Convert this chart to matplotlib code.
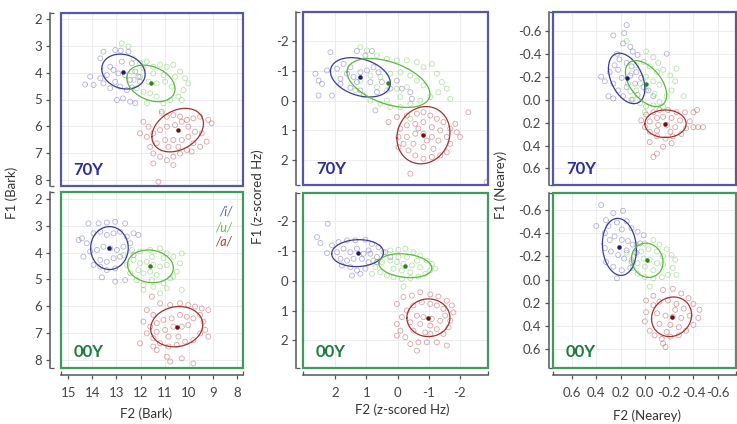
import numpy as np
import matplotlib.pyplot as plt
from matplotlib.patches import Rectangle

plt.rcParams['font.family'] = ['Lato', 'DejaVu Sans']
plt.rcParams['axes.unicode_minus'] = False

# vowel order: /i/, /u/, /a/
vowels = ['/i/', '/u/', '/a/']
point_colors = ['#5656b4', '#5fc23f', '#b23636']
line_colors = ['#3a3a9c', '#5aba3c', '#a53030']
mean_colors = ['#1c1c70', '#2a861a', '#701010']

# ---- Bark, 70Y (F2, F1) ----
bark70_i = [(13.54, 3.22), (13.05, 3.16), (12.82, 3.18), (12.50, 3.22), (13.67, 3.47), (13.26, 3.78),
            (14.09, 4.15), (14.30, 4.44), (13.95, 4.46), (13.67, 4.21), (13.40, 4.09), (13.12, 3.90),
            (12.92, 4.03), (12.64, 4.09), (12.43, 4.27), (12.22, 3.96), (12.09, 4.15), (13.05, 4.34),
            (12.85, 4.52), (12.57, 4.65), (12.36, 4.55), (12.98, 5.02), (12.73, 4.96), (12.43, 5.08),
            (12.22, 5.14), (12.02, 4.34), (13.26, 4.58), (13.54, 4.40), (12.78, 3.59), (12.36, 3.65)]
bark70_u = [(12.78, 2.91), (12.50, 3.03), (12.29, 3.47), (12.02, 3.65), (11.74, 3.59), (11.47, 3.78),
            (11.19, 3.71), (10.91, 3.78), (10.64, 3.71), (10.36, 3.96), (10.15, 4.21), (10.02, 4.40),
            (10.22, 4.65), (10.43, 4.89), (10.77, 5.02), (11.05, 5.14), (11.33, 4.89), (11.60, 4.77),
            (11.88, 4.71), (12.16, 4.58), (12.29, 4.27), (12.02, 4.15), (11.67, 4.34), (11.33, 4.40),
            (10.98, 4.34), (10.71, 4.52), (11.47, 4.03), (11.05, 4.09), (11.88, 3.84), (12.36, 3.96),
            (11.12, 5.52), (11.74, 5.14), (10.57, 4.15), (10.29, 5.02)]
bark70_a = [(11.12, 5.45), (10.91, 5.64), (10.64, 5.58), (10.36, 5.64), (10.08, 5.76), (9.81, 5.70),
            (9.53, 5.64), (9.19, 5.76), (9.05, 5.89), (11.88, 5.83), (11.67, 6.01), (12.02, 6.26),
            (11.74, 6.39), (11.47, 6.26), (11.19, 6.14), (10.91, 6.01), (10.57, 5.95), (10.29, 5.83),
            (10.02, 6.01), (9.74, 6.20), (9.46, 6.26), (9.26, 6.57), (9.53, 6.76), (9.81, 6.63),
            (10.08, 6.88), (10.36, 7.01), (10.64, 7.13), (10.91, 7.26), (11.19, 7.13), (11.47, 7.01),
            (11.60, 6.76), (11.33, 6.63), (10.98, 6.51), (10.64, 6.51), (10.29, 6.51), (10.02, 6.39),
            (10.84, 6.76), (10.43, 6.76), (11.47, 7.38), (10.64, 7.44), (11.26, 8.06), (9.88, 6.94)]

# ---- Bark, 00Y ----
bark00_i = [(14.16, 2.91), (13.74, 2.91), (13.40, 2.88), (13.05, 2.85), (12.64, 2.91), (14.43, 3.47),
            (14.23, 3.65), (13.95, 3.28), (13.67, 3.22), (13.40, 3.34), (13.12, 3.28), (12.85, 3.22),
            (12.57, 3.40), (12.29, 3.28), (12.09, 3.34), (14.09, 3.96), (13.81, 3.90), (13.54, 3.78),
            (13.26, 3.84), (12.98, 3.90), (12.71, 3.78), (12.43, 3.65), (13.67, 4.27), (13.40, 4.34),
            (13.12, 4.21), (12.85, 4.15), (13.95, 4.46), (13.67, 4.52), (13.40, 4.65), (13.05, 4.59),
            (13.60, 4.92), (13.05, 5.08), (12.64, 5.02), (12.29, 4.09), (14.37, 4.15), (14.57, 3.53)]
bark00_u = [(12.36, 3.90), (12.02, 3.96), (11.60, 3.90), (11.19, 3.84), (10.91, 4.03), (10.64, 4.15),
            (10.29, 4.03), (10.36, 4.40), (10.50, 4.71), (10.77, 4.96), (11.05, 5.14), (11.47, 5.27),
            (11.88, 5.21), (12.16, 5.02), (12.43, 4.77), (12.57, 4.46), (12.29, 4.27), (12.02, 4.40),
            (11.74, 4.34), (11.47, 4.46), (11.19, 4.52), (10.91, 4.46), (11.60, 4.71), (11.33, 4.83),
            (11.88, 4.77), (12.09, 4.65), (11.53, 4.15), (11.05, 4.21), (10.29, 5.39), (11.19, 5.52),
            (10.91, 5.33), (11.88, 5.39), (11.53, 5.02), (12.71, 4.09), (10.64, 4.89)]
bark00_a = [(11.53, 5.64), (11.19, 5.89), (10.77, 5.95), (10.36, 5.89), (10.02, 5.95), (9.74, 6.01),
            (9.46, 6.08), (9.19, 6.14), (11.74, 6.14), (11.47, 6.32), (11.88, 6.57), (11.60, 6.76),
            (11.33, 6.63), (11.05, 6.51), (10.71, 6.45), (10.36, 6.32), (10.08, 6.39), (9.81, 6.45),
            (9.53, 6.32), (9.39, 6.57), (9.32, 6.88), (9.19, 7.13), (9.53, 7.01), (9.81, 7.26),
            (10.15, 7.32), (10.50, 7.44), (10.84, 7.50), (11.19, 7.38), (11.47, 7.19), (11.74, 7.01),
            (11.33, 6.95), (10.98, 6.88), (10.64, 6.76), (10.29, 6.76), (10.02, 6.70), (10.84, 7.13),
            (10.43, 7.13), (12.02, 7.38), (11.33, 7.63), (10.91, 7.88), (10.29, 7.94), (9.81, 8.13),
            (10.77, 8.06), (11.47, 7.50)]

# ---- z-scored Hz, 70Y ----
z70_i = [(2.15, -1.62), (1.30, -1.66), (0.82, -1.66), (1.03, -1.51), (2.63, -0.90), (2.53, -0.67),
         (2.42, -0.56), (2.53, -0.17), (2.10, -0.17), (2.26, -1.01), (1.94, -1.07), (1.73, -1.23),
         (1.51, -1.12), (1.62, -0.90), (1.41, -0.79), (1.19, -0.95), (0.98, -1.01), (0.77, -1.12),
         (0.61, -0.95), (0.50, -0.62), (0.87, -0.62), (1.30, -0.62), (1.51, -0.43), (1.83, -0.56),
         (1.19, -0.34), (0.66, -0.28), (0.23, -0.40), (-0.14, -0.40), (-0.41, -0.28), (0.02, -0.67),
         (0.71, 0.33), (-0.46, -0.06), (1.83, -0.73)]
z70_u = [(1.19, -1.79), (0.98, -1.68), (0.66, -1.51), (0.34, -1.40), (0.02, -1.35), (-0.30, -1.35),
         (-0.62, -1.29), (-0.83, -1.12), (-1.10, -1.23), (-1.26, -0.90), (-1.42, -0.62), (-1.58, -0.40),
         (-1.31, -0.28), (-1.05, -0.12), (-0.73, 0.00), (-0.41, 0.11), (-0.09, 0.22), (0.23, 0.22),
         (0.55, 0.11), (0.87, 0.00), (1.09, -0.17), (1.35, -0.34), (1.19, -0.67), (0.87, -0.84),
         (0.55, -0.79), (0.23, -0.90), (-0.09, -0.95), (-0.41, -0.84), (-0.62, -0.67), (-0.83, -0.51),
         (-0.30, -0.45), (0.02, -0.40), (0.34, -0.34), (0.66, -0.45), (-0.09, -0.12), (-1.69, -0.06),
         (-0.41, 0.61), (0.34, 0.00)]
z70_a = [(0.29, 0.72), (0.02, 0.55), (-0.30, 0.50), (-0.62, 0.44), (-0.83, 0.39), (-1.05, 0.50),
         (-1.26, 0.61), (-1.47, 0.72), (-1.69, 0.94), (-1.90, 1.06), (-2.01, 1.22), (-2.27, 0.39),
         (-1.85, 0.78), (-0.09, 0.94), (-0.30, 0.83), (-0.57, 0.78), (-0.83, 0.72), (-1.10, 0.89),
         (-1.37, 1.00), (-1.58, 1.22), (-1.69, 1.45), (-1.58, 1.73), (-1.37, 1.84), (-1.10, 1.89),
         (-0.83, 1.95), (-0.57, 1.84), (-0.35, 1.67), (-0.19, 1.45), (-0.03, 1.22), (-0.30, 1.22),
         (-0.57, 1.11), (-0.83, 1.11), (-1.10, 1.22), (-1.31, 1.34), (-0.51, 1.45), (-0.83, 1.56),
         (-1.15, 1.62), (-0.41, 2.45), (-2.86, 2.73), (-0.03, 1.56), (-0.94, 1.34), (-0.67, 0.94)]

# ---- z-scored Hz, 00Y ----
z00_i = [(2.24, -1.90), (2.58, -1.46), (2.47, -1.26), (2.26, -0.92), (2.10, -1.18), (1.89, -1.29),
         (1.62, -1.35), (1.35, -1.35), (1.03, -1.37), (0.82, -1.23), (0.61, -1.12), (0.39, -0.95),
         (0.23, -0.79), (1.94, -0.95), (1.73, -1.07), (1.51, -0.95), (1.30, -1.07), (1.09, -0.90),
         (0.87, -0.90), (0.66, -0.79), (1.83, -0.73), (1.62, -0.67), (1.41, -0.73), (1.14, -0.73),
         (0.93, -0.62), (1.51, -0.45), (1.30, -0.34), (1.03, -0.40), (1.46, -0.17), (1.19, -0.23),
         (0.66, -0.62), (0.93, -1.01), (1.78, -0.51)]
z00_u = [(0.45, -0.95), (0.23, -1.01), (-0.03, -1.03), (-0.25, -1.07), (-0.51, -0.95), (-0.73, -0.84),
         (-0.94, -0.67), (-1.10, -0.56), (-1.05, -0.34), (-0.89, -0.23), (-0.67, -0.14), (-0.41, -0.09),
         (-0.14, -0.06), (0.13, -0.12), (0.34, -0.17), (0.55, -0.28), (0.71, -0.45), (0.77, -0.67),
         (0.50, -0.62), (0.23, -0.67), (0.02, -0.62), (-0.19, -0.56), (-0.46, -0.51), (-0.73, -0.45),
         (0.13, -0.40), (-0.14, -0.34), (-0.41, -0.28), (-0.03, -0.79), (-0.30, -0.79), (-0.62, -0.67),
         (-0.19, 0.20), (0.82, -0.23), (-1.21, -0.40)]
z00_a = [(0.02, 0.78), (-0.19, 0.55), (-0.46, 0.50), (-0.73, 0.39), (-1.05, 0.46), (-1.31, 0.53),
         (-1.58, 0.67), (-1.74, 0.83), (-1.79, 1.06), (-1.69, 1.34), (-1.63, 1.56), (-1.47, 1.78),
         (-1.26, 2.06), (-0.94, 2.06), (-0.67, 2.06), (-0.41, 2.12), (-0.25, 1.89), (-0.09, 1.67),
         (0.02, 1.45), (-0.14, 1.22), (-0.30, 1.00), (-0.51, 0.83), (-0.78, 0.72), (-1.05, 0.78),
         (-1.26, 0.83), (-1.47, 0.94), (-0.62, 1.17), (-0.83, 1.22), (-1.10, 1.28), (-1.37, 1.34),
         (-0.41, 1.39), (-0.73, 1.45), (-1.05, 1.50), (-1.26, 1.62), (-0.51, 1.67), (-0.89, 1.73),
         (-0.62, 2.34), (0.02, 1.84), (-1.58, 2.17), (-1.05, 1.78), (-1.53, 1.17)]

# ---- Nearey, 70Y ----
nearey70_i = [(0.26, -0.56), (0.17, -0.58), (0.15, -0.65), (0.18, -0.49), (0.12, -0.46), (0.23, -0.40),
              (0.10, -0.42), (0.06, -0.39), (0.36, -0.20), (0.33, -0.16), (0.30, -0.03), (0.26, -0.01),
              (0.29, -0.24), (0.25, -0.30), (0.21, -0.35), (0.15, -0.32), (0.11, -0.29), (0.07, -0.24),
              (0.03, -0.19), (0.01, -0.11), (0.06, -0.04), (0.11, 0.00), (0.18, -0.03), (0.22, -0.08),
              (0.26, -0.14), (0.19, -0.19), (0.12, -0.21), (0.15, -0.11), (0.08, -0.14), (-0.07, -0.03),
              (-0.03, -0.08), (-0.18, -0.40), (0.22, -0.26)]
nearey70_u = [(0.15, -0.51), (-0.01, -0.42), (-0.07, -0.37), (-0.11, -0.32), (-0.15, -0.26), (-0.21, -0.21),
              (-0.25, -0.16), (-0.22, -0.08), (-0.18, -0.03), (-0.12, 0.02), (-0.07, 0.05), (-0.01, 0.06),
              (0.04, 0.03), (0.10, 0.00), (0.12, -0.07), (0.14, -0.14), (0.11, -0.23), (0.07, -0.30),
              (0.01, -0.33), (-0.04, -0.29), (-0.10, -0.24), (-0.01, -0.20), (-0.07, -0.16), (-0.12, -0.13),
              (0.04, -0.14), (-0.01, -0.08), (-0.08, -0.05), (-0.32, -0.03), (-0.26, -0.27), (0.07, -0.08),
              (0.00, 0.11), (-0.15, 0.06)]
nearey70_a = [(-0.01, 0.13), (-0.07, 0.11), (-0.12, 0.09), (-0.19, 0.09), (-0.26, 0.11), (-0.33, 0.11),
              (-0.40, 0.11), (-0.43, 0.09), (0.03, 0.18), (0.00, 0.24), (-0.04, 0.28), (-0.10, 0.32),
              (-0.17, 0.34), (-0.23, 0.32), (-0.30, 0.30), (-0.34, 0.25), (-0.37, 0.19), (-0.40, 0.24),
              (-0.44, 0.24), (-0.48, 0.24), (-0.04, 0.19), (-0.10, 0.16), (-0.15, 0.15), (-0.22, 0.16),
              (-0.29, 0.18), (-0.11, 0.22), (-0.18, 0.22), (-0.25, 0.24), (-0.10, 0.27), (-0.21, 0.28),
              (-0.07, 0.50), (-0.10, 0.47), (-0.15, 0.41), (-0.22, 0.38), (-0.04, 0.37)]

# ---- Nearey, 00Y ----
nearey00_i = [(0.36, -0.64), (0.26, -0.57), (0.18, -0.59), (0.32, -0.51), (0.23, -0.49), (0.15, -0.50),
              (0.11, -0.44), (0.06, -0.41), (0.01, -0.38), (0.40, -0.46), (0.33, -0.40), (0.29, -0.34),
              (0.25, -0.37), (0.19, -0.34), (0.14, -0.33), (0.10, -0.30), (0.07, -0.23), (0.33, -0.27),
              (0.28, -0.24), (0.22, -0.21), (0.17, -0.18), (0.11, -0.15), (0.32, -0.15), (0.26, -0.11),
              (0.19, -0.08), (0.23, -0.01), (0.12, -0.10), (0.19, -0.43), (0.30, -0.46), (0.15, -0.25),
              (0.04, -0.31)]
nearey00_u = [(0.07, -0.30), (0.00, -0.31), (-0.07, -0.34), (-0.12, -0.30), (-0.18, -0.26), (-0.22, -0.21),
              (-0.25, -0.17), (-0.23, -0.10), (-0.19, -0.04), (-0.14, -0.02), (-0.07, -0.01), (0.00, -0.02),
              (0.06, -0.05), (0.10, -0.10), (0.11, -0.17), (0.08, -0.23), (0.03, -0.24), (-0.03, -0.26),
              (-0.10, -0.24), (-0.15, -0.20), (0.01, -0.18), (-0.04, -0.17), (-0.10, -0.14), (-0.15, -0.13),
              (0.00, -0.11), (-0.07, -0.08), (0.06, -0.14), (-0.04, 0.06), (-0.26, -0.04), (0.15, -0.23)]
nearey00_a = [(-0.01, 0.18), (-0.07, 0.14), (-0.15, 0.09), (-0.23, 0.08), (-0.30, 0.12), (-0.36, 0.16),
              (-0.40, 0.21), (-0.45, 0.26), (-0.44, 0.33), (-0.40, 0.39), (-0.34, 0.44), (-0.28, 0.48),
              (-0.21, 0.49), (-0.14, 0.51), (-0.08, 0.48), (-0.04, 0.44), (0.00, 0.36), (-0.01, 0.28),
              (-0.07, 0.22), (-0.12, 0.19), (-0.19, 0.18), (-0.26, 0.21), (-0.32, 0.25), (-0.37, 0.31),
              (-0.10, 0.29), (-0.17, 0.31), (-0.23, 0.32), (-0.30, 0.33), (-0.12, 0.38), (-0.21, 0.39),
              (-0.28, 0.41), (-0.15, 0.55), (-0.17, 0.58), (-0.18, 0.45), (-0.25, 0.26)]

# ellipse stats per vowel: (mean F2, mean F1, sd F2, sd F1, correlation)
ell_bark70 = [(12.71, 3.96, 0.90, 0.65, -0.15), (11.57, 4.40, 1.00, 0.68, -0.30), (10.46, 6.14, 1.07, 0.81, 0.30)]
ell_bark00 = [(13.29, 3.83, 0.78, 0.80, 0.00), (11.59, 4.51, 0.95, 0.61, -0.10), (10.50, 6.76, 1.08, 0.75, 0.10)]
ell_z70 = [(1.19, -0.78, 0.96, 0.66, -0.30), (0.29, -0.59, 1.33, 0.82, -0.45), (-0.83, 1.16, 0.85, 0.96, 0.10)]
ell_z00 = [(1.28, -0.92, 0.83, 0.45, 0.05), (-0.25, -0.50, 0.85, 0.40, -0.20), (-0.99, 1.24, 0.69, 0.63, 0.00)]
ell_nearey70 = [(0.15, -0.185, 0.15, 0.22, -0.40), (-0.01, -0.14, 0.17, 0.20, -0.50), (-0.17, 0.21, 0.17, 0.12, 0.00)]
ell_nearey00 = [(0.21, -0.28, 0.14, 0.245, -0.10), (-0.02, -0.165, 0.13, 0.147, -0.10), (-0.22, 0.32, 0.165, 0.17, 0.10)]

bark_ticks = [15, 14, 13, 12, 11, 10, 9, 8]
bark_f1_ticks = [2, 3, 4, 5, 6, 7, 8]
z_ticks = [2, 1, 0, -1, -2]
z_f1_ticks = [-2, -1, 0, 1, 2]
nearey_ticks = [0.6, 0.4, 0.2, 0.0, -0.2, -0.4, -0.6]
nearey_f1_ticks = [-0.6, -0.4, -0.2, 0.0, 0.2, 0.4, 0.6]

fig = plt.figure(figsize=(7.37, 4.24), dpi=100)


def px_axes(left, top, right, bottom):
    return fig.add_axes([left / 737, 1 - bottom / 424, (right - left) / 737, (bottom - top) / 424])


def draw_panel(ax, clusters, ellipses):
    t = np.linspace(0, 2 * np.pi, 200)
    for k in range(3):
        pts = np.array(clusters[k])
        ax.scatter(pts[:, 0], pts[:, 1], s=13, facecolors='none', edgecolors=point_colors[k],
                   linewidths=0.6, alpha=0.45, zorder=2)
        cx, cy, sx, sy, r = ellipses[k]
        ex = cx + sx * np.cos(t)
        ey = cy + sy * (r * np.cos(t) + np.sqrt(1 - r * r) * np.sin(t))
        ax.plot(ex, ey, color=line_colors[k], lw=0.9, zorder=3)
        ax.plot(cx, cy, 'o', ms=2.2, color=mean_colors[k], zorder=4)


def style_axes(ax, xlim, ylim, xticks, yticks, fmt, frame_color, tag, tag_color, show_x, left_off):
    ax.set_xlim(*xlim)
    ax.set_ylim(*ylim)
    ax.set_yticks(yticks)
    ax.set_yticklabels([fmt.format(v) for v in yticks])
    ax.set_yticks(list(ylim), minor=True)
    ax.grid(True, which='major', color='#ebebf0', lw=0.7, zorder=0)
    ax.set_axisbelow(True)
    for s in ['top', 'right']:
        ax.spines[s].set_visible(False)
    ax.spines['left'].set_position(('outward', left_off))
    ax.spines['left'].set_color('#555555')
    ax.spines['left'].set_linewidth(1.1)
    ax.tick_params(axis='y', which='major', direction='out', length=3, width=0.9, color='#555555',
                   labelsize=9.5, labelcolor='#444444', pad=2.5)
    ax.tick_params(axis='y', which='minor', direction='in', length=3, width=0.9, color='#555555')
    ax.set_xticks(xticks)
    if show_x:
        ax.set_xticklabels([fmt.format(v) for v in xticks])
        ax.set_xticks(list(xlim), minor=True)
        ax.spines['bottom'].set_position(('outward', 5))
        ax.spines['bottom'].set_color('#555555')
        ax.spines['bottom'].set_linewidth(1.1)
        ax.tick_params(axis='x', which='major', direction='out', length=3, width=0.9, color='#555555',
                       labelsize=9.5, labelcolor='#444444', pad=6)
        ax.tick_params(axis='x', which='minor', direction='in', length=3, width=0.9, color='#555555')
    else:
        ax.spines['bottom'].set_visible(False)
        ax.tick_params(axis='x', which='both', length=0, labelbottom=False)
    ax.add_patch(Rectangle((0, 0), 1, 1, transform=ax.transAxes, fill=False, ec=frame_color,
                           lw=1.6, clip_on=False, zorder=5))
    ax.text(0.07, 0.065, tag, transform=ax.transAxes, fontsize=12, fontweight='bold',
            color=tag_color, va='baseline', zorder=6)


blue_frame, green_frame = '#5558a8', '#3f9a5c'
blue_tag, green_tag = '#2b2f8f', '#1f7a3d'

# Bark column
ax = px_axes(61, 13, 243, 186)
draw_panel(ax, [bark70_i, bark70_u, bark70_a], ell_bark70)
style_axes(ax, (15.3, 7.75), (8.22, 1.78), bark_ticks, bark_f1_ticks, '{:g}', blue_frame, '70Y', blue_tag, False, 8)
ax = px_axes(61, 192, 243, 368)
draw_panel(ax, [bark00_i, bark00_u, bark00_a], ell_bark00)
style_axes(ax, (15.3, 7.75), (8.30, 1.74), bark_ticks, bark_f1_ticks, '{:g}', green_frame, '00Y', green_tag, True, 8)
for k, yy in enumerate([0.892, 0.80, 0.716]):
    ax.text(0.94, yy, vowels[k], transform=ax.transAxes, ha='right', va='center', fontsize=9,
            style='italic', color=point_colors[k])

# z-scored column
ax = px_axes(303, 12, 488, 185)
draw_panel(ax, [z70_i, z70_u, z70_a], ell_z70)
style_axes(ax, (3.03, -2.9), (2.83, -2.97), z_ticks, z_f1_ticks, '{:g}', blue_frame, '70Y', blue_tag, False, 5)
ax = px_axes(303, 193, 488, 368)
draw_panel(ax, [z00_i, z00_u, z00_a], ell_z00)
style_axes(ax, (3.03, -2.9), (2.92, -2.93), z_ticks, z_f1_ticks, '{:g}', green_frame, '00Y', green_tag, True, 5)

# Nearey column
ax = px_axes(553, 12, 736, 185)
draw_panel(ax, [nearey70_i, nearey70_u, nearey70_a], ell_nearey70)
style_axes(ax, (0.757, -0.751), (0.744, -0.764), nearey_ticks, nearey_f1_ticks, '{:.1f}', blue_frame, '70Y', blue_tag, False, 3)
ax = px_axes(553, 193, 736, 368)
draw_panel(ax, [nearey00_i, nearey00_u, nearey00_a], ell_nearey00)
style_axes(ax, (0.757, -0.751), (0.76, -0.743), nearey_ticks, nearey_f1_ticks, '{:.1f}', green_frame, '00Y', green_tag, True, 3)

# axis titles
lab = dict(fontsize=9.5, color='#333333', ha='center', va='center')
fig.text(12 / 737, 1 - 193 / 424, 'F1 (Bark)', rotation=90, **lab)
fig.text(258 / 737, 1 - 197 / 424, 'F1 (z-scored Hz)', rotation=90, **lab)
fig.text(501 / 737, 1 - 185 / 424, 'F1 (Nearey)', rotation=90, **lab)
fig.text(146 / 737, 1 - 414 / 424, 'F2 (Bark)', **lab)
fig.text(402 / 737, 1 - 410 / 424, 'F2 (z-scored Hz)', **lab)
fig.text(647 / 737, 1 - 416 / 424, 'F2 (Nearey)', **lab)

fig.savefig('out.png', dpi=100)
